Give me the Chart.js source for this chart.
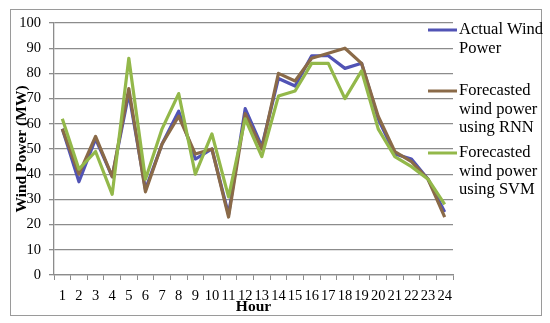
<!DOCTYPE html>
<html>
<head>
<meta charset="utf-8">
<script src="https://cdn.jsdelivr.net/npm/chart.js@4/dist/chart.umd.min.js"></script>
<style>
html,body{margin:0;padding:0;background:#fff;}
#wrap{width:550px;height:323px;position:relative;}
</style>
</head>
<body>
<div id="wrap"><canvas id="c" width="550" height="323"></canvas></div>
<script>
const hours = ['1','2','3','4','5','6','7','8','9','10','11','12','13','14','15','16','17','18','19','20','21','22','23','24'];
const actualPower = [58, 37, 54, 39, 72, 34, 52, 65, 46, 50, 24, 66, 51, 78, 75, 87, 87, 82, 84, 62, 48, 46, 38, 25];
const rnnPower    = [58, 40, 55, 39, 74, 33, 52, 63, 48, 50, 23, 64, 50, 80, 77, 86, 88, 90, 84, 63, 49, 45, 38, 23];
const svmPower    = [62, 42, 49, 32, 86, 38, 58, 72, 40, 56, 31, 62, 47, 71, 73, 84, 84, 70, 81, 58, 47, 43, 38, 28];
const seriesNames = [['Actual Wind', 'Power'], ['Forecasted', 'wind power', 'using RNN'], ['Forecasted', 'wind power', 'using SVM']];
const seriesColors = ['#5153b5', '#8a6a48', '#93b84a'];
const yTitle = 'Wind Power (MW)';
const xTitle = 'Hour';

const serif = "'Liberation Serif', 'DejaVu Serif', serif";
const gridColor = '#8c8c8c';

const framePlugin = {
  id: 'frame',
  beforeDraw(chart) {
    const ctx = chart.ctx;
    ctx.save();
    ctx.fillStyle = '#fff';
    ctx.fillRect(0, 0, chart.width, chart.height);
    ctx.strokeStyle = '#9a9a9a';
    ctx.lineWidth = 1;
    ctx.strokeRect(10.5, 9.5, 531, 306);
    ctx.restore();
  },
  afterDraw(chart) {
    const ctx = chart.ctx;
    ctx.save();
    const starts = [30, 91, 153];
    ctx.font = '16.5px ' + serif;
    ctx.textBaseline = 'middle';
    ctx.textAlign = 'left';
    seriesNames.forEach((lines, i) => {
      const y = starts[i];
      ctx.strokeStyle = seriesColors[i];
      ctx.lineWidth = 3;
      ctx.beginPath();
      ctx.moveTo(428, y);
      ctx.lineTo(457, y);
      ctx.stroke();
      ctx.fillStyle = '#000';
      lines.forEach((t, j) => ctx.fillText(t, 459, y + j * 18.5));
    });
    ctx.restore();
  }
};

new Chart(document.getElementById('c'), {
  type: 'line',
  data: {
    labels: hours,
    datasets: [
      { label: seriesNames[0].join(' '), data: actualPower, borderColor: seriesColors[0], order: 3 },
      { label: seriesNames[1].join(' '), data: rnnPower, borderColor: seriesColors[1], order: 2 },
      { label: seriesNames[2].join(' '), data: svmPower, borderColor: seriesColors[2], order: 1 }
    ].map(d => Object.assign(d, { borderWidth: 3.2, pointRadius: 0, tension: 0, fill: false, borderJoinStyle: 'round' }))
  },
  options: {
    responsive: false,
    animation: false,
    devicePixelRatio: 1,
    layout: { padding: { left: 0, right: 97, top: 23, bottom: 0 } },
    plugins: { legend: { display: false }, tooltip: { enabled: false } },
    scales: {
      x: {
        offset: true,
        grid: { offset: true, drawOnChartArea: false, drawTicks: true, tickLength: 5, color: gridColor, lineWidth: 1 },
        border: { color: gridColor, width: 1.3 },
        ticks: { color: '#000', font: { family: serif, size: 14.5 }, padding: 7, maxRotation: 0, autoSkip: false },
        title: { display: true, text: xTitle, color: '#000', font: { family: serif, size: 15.5, weight: 'bold' }, padding: { top: 0, bottom: 7 } },
        afterFit(s) { s.height = 48; }
      },
      y: {
        min: 0, max: 100,
        ticks: { stepSize: 10, color: '#000', font: { family: serif, size: 14.5 }, padding: 8 },
        grid: { color: gridColor, lineWidth: 1.3, tickLength: 5, drawTicks: true },
        border: { color: gridColor, width: 1.3 },
        title: { display: true, text: yTitle, color: '#000', font: { family: serif, size: 15.5, weight: 'bold' }, padding: { top: 13, bottom: 0 } },
        afterFit(s) { s.width = 54; }
      }
    }
  },
  plugins: [framePlugin]
});
</script>
</body>
</html>
